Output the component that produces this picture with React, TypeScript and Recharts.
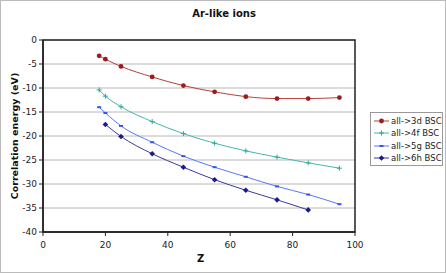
import React from 'react';
import {
  LineChart, Line, XAxis, YAxis, CartesianGrid, ReferenceArea,
} from 'recharts';

const Z_VALUES = [18, 20, 25, 35, 45, 55, 65, 75, 85, 95];
const BSC_3D = [-3.3, -4.0, -5.5, -7.7, -9.5, -10.8, -11.8, -12.2, -12.2, -12.0];
const BSC_4F = [-10.4, -11.7, -13.9, -17.0, -19.5, -21.5, -23.1, -24.4, -25.6, -26.7];
const BSC_5G = [-14.0, -15.2, -17.9, -21.3, -24.2, -26.5, -28.5, -30.5, -32.2, -34.2];
const BSC_6H = [null, -17.6, -20.1, -23.7, -26.5, -29.1, -31.3, -33.3, -35.4, null];

const X_TICKS = [0, 20, 40, 60, 80, 100];
const X_MINOR = [0, 4, 8, 12, 16, 20, 24, 28, 32, 36, 40, 44, 48, 52, 56, 60, 64, 68, 72, 76, 80, 84, 88, 92, 96, 100];
const Y_TICKS = [0, -5, -10, -15, -20, -25, -30, -35, -40];
const Y_MINOR = [
  0, -1, -2, -3, -4, -5, -6, -7, -8, -9, -10, -11, -12, -13, -14, -15, -16, -17, -18, -19, -20,
  -21, -22, -23, -24, -25, -26, -27, -28, -29, -30, -31, -32, -33, -34, -35, -36, -37, -38, -39, -40,
];

const SERIES = [
  { key: 'd3', label: 'all->3d BSC', line: '#b5403a', mark: '#9a1c1c', shape: 'circle' },
  { key: 'f4', label: 'all->4f BSC', line: '#45b8ad', mark: '#2aa89c', shape: 'plus' },
  { key: 'g5', label: 'all->5g BSC', line: '#5577ff', mark: '#3355ee', shape: 'dash' },
  { key: 'h6', label: 'all->6h BSC', line: '#3a3aa0', mark: '#1a1a88', shape: 'diamond' },
];

const data = Z_VALUES.map((z, i) => ({
  z,
  d3: BSC_3D[i],
  f4: BSC_4F[i],
  g5: BSC_5G[i],
  h6: BSC_6H[i],
}));

const FONT = '"DejaVu Sans", Verdana, sans-serif';

function marker(shape: string, color: string, cx: number, cy: number, k?: string) {
  if (shape === 'circle') return <circle key={k} cx={cx} cy={cy} r={2.4} fill={color} stroke="none" />;
  if (shape === 'plus') {
    return (
      <g key={k}>
        <line x1={cx - 2.5} x2={cx + 2.5} y1={cy} y2={cy} stroke={color} strokeWidth={1} />
        <line x1={cx} x2={cx} y1={cy - 2.5} y2={cy + 2.5} stroke={color} strokeWidth={1} />
      </g>
    );
  }
  if (shape === 'dash') return <rect key={k} x={cx - 2} y={cy - 1} width={4} height={2} fill={color} />;
  return <path key={k} d={`M${cx},${cy - 2.8}L${cx + 2.8},${cy}L${cx},${cy + 2.8}L${cx - 2.8},${cy}Z`} fill={color} />;
}

const makeDot = (shape: string, color: string) => (props: any) => {
  const { cx, cy, index, value } = props;
  if (cx == null || cy == null || value == null) return <g key={`e${index}`} />;
  return marker(shape, color, cx, cy, `d${index}`);
};

const LegendBox = () => (
  <div style={{
    position: 'absolute', left: 369, top: 111, width: 73, height: 54, boxSizing: 'border-box',
    border: '1px solid #999', background: '#fff', padding: '2px 0 0 3px',
    fontFamily: FONT, fontSize: 8.5, color: '#222', whiteSpace: 'nowrap',
  }}>
    {SERIES.map(s => (
      <div key={s.key} style={{ display: 'flex', alignItems: 'center', height: 12.3 }}>
        <svg width={15} height={8} style={{ marginRight: 2, flex: 'none' }}>
          <line x1={0} x2={15} y1={4} y2={4} stroke={s.line} strokeWidth={1} />
          {marker(s.shape, s.mark, 7.5, 4)}
        </svg>
        <span>{s.label}</span>
      </div>
    ))}
  </div>
);

const noTick = () => <g />;

export default function App() {
  return (
    <div style={{
      position: 'absolute', left: 0, top: 0, width: 446, height: 273,
      background: '#fff', border: '1px solid #bbb', boxSizing: 'border-box',
    }}>
      <div style={{
        position: 'absolute', left: 0, width: 446, top: 7, textAlign: 'center',
        fontFamily: FONT, fontWeight: 'bold', fontSize: 10, color: '#111',
      }}>
        Ar-like ions
      </div>
      <div style={{
        position: 'absolute', left: 13, top: 135, width: 0, height: 0,
      }}>
        <div style={{
          position: 'absolute', transform: 'translate(-50%, -50%) rotate(-90deg)',
          whiteSpace: 'nowrap', fontFamily: FONT, fontWeight: 'bold', fontSize: 9.5, color: '#111',
        }}>
          Correlation energy (eV)
        </div>
      </div>
      <div style={{
        position: 'absolute', left: 196, top: 252, fontFamily: FONT, fontWeight: 'bold',
        fontSize: 10, color: '#111',
      }}>
        Z
      </div>
      <div style={{ position: 'absolute', left: -1, top: -1 }}>
        <LineChart
          width={446}
          height={273}
          data={data}
          margin={{ top: 40, right: 91, left: 0, bottom: 20 }}
          style={{ fontFamily: FONT }}
        >
          <CartesianGrid vertical={false} stroke="#b8b8b8" horizontalValues={Y_TICKS} />
          <XAxis
            dataKey="z"
            type="number"
            domain={[0, 100]}
            ticks={X_TICKS}
            height={21}
            tick={{ fill: '#222', fontSize: 9, dy: 4 }}
            tickSize={4}
            axisLine={{ stroke: '#222', strokeWidth: 1.5 }}
            tickLine={{ stroke: '#222' }}
          />
          <XAxis
            xAxisId="minor"
            dataKey="z"
            type="number"
            domain={[0, 100]}
            ticks={X_MINOR}
            height={0}
            mirror
            tick={noTick}
            tickSize={3}
            axisLine={false}
            tickLine={{ stroke: '#222' }}
          />
          <YAxis
            type="number"
            domain={[-40, 0]}
            ticks={Y_TICKS}
            width={43}
            tick={{ fill: '#222', fontSize: 9 }}
            tickSize={4}
            axisLine={{ stroke: '#222', strokeWidth: 1.5 }}
            tickLine={{ stroke: '#222' }}
          />
          <YAxis
            yAxisId="minor"
            type="number"
            domain={[-40, 0]}
            ticks={Y_MINOR}
            width={0}
            mirror
            tick={noTick}
            tickSize={3}
            axisLine={false}
            tickLine={{ stroke: '#222' }}
          />
          <ReferenceArea
            x1={0}
            x2={100}
            y1={-40}
            y2={0}
            fill="none"
            stroke="#222"
            strokeWidth={1.5}
            fillOpacity={0}
          />
          {SERIES.map(s => (
            <Line
              key={s.key}
              dataKey={s.key}
              name={s.label}
              type="monotone"
              stroke={s.line}
              strokeWidth={1}
              dot={makeDot(s.shape, s.mark)}
              activeDot={false}
              isAnimationActive={false}
            />
          ))}
        </LineChart>
      </div>
      <LegendBox />
    </div>
  );
}
